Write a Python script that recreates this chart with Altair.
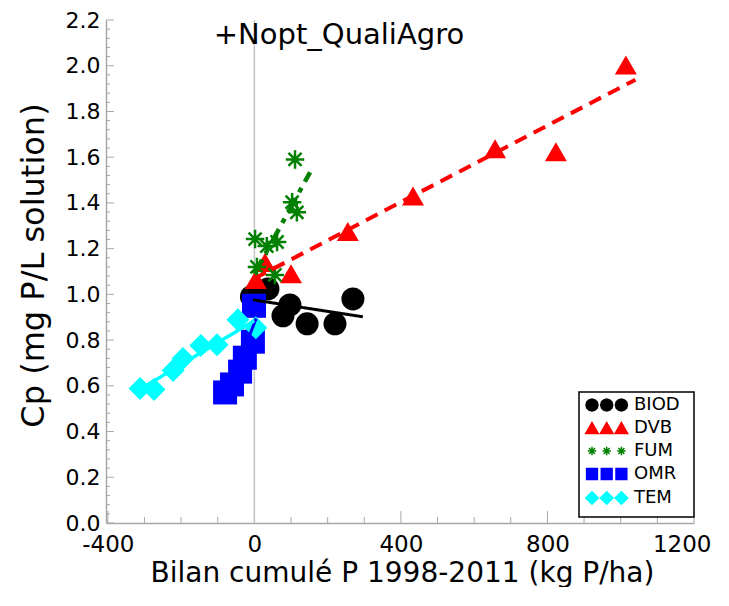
import math
import altair as alt
import pandas as pd

# ---------------- data ----------------
groups = ["BIOD", "DVB", "FUM", "OMR", "TEM"]
colors = ["#000000", "#ff0000", "#008000", "#0000ff", "#00ffff"]

biod_x = [-8, 37, 97, 78, 144, 220, 269]
biod_y = [0.99, 1.024, 0.954, 0.906, 0.871, 0.871, 0.980]
dvb_x = [4, 29, 100, 255, 433, 657, 823, 1014]
dvb_y = [1.065, 1.14, 1.09, 1.275, 1.43, 1.637, 1.624, 2.003]
fum_x = [111, 103, 116, 2, 34, 62, 7, 56]
fum_y = [1.590, 1.403, 1.359, 1.242, 1.211, 1.229, 1.120, 1.085]
omr_x = [-1, -4, -26, -39, -61, -80]
omr_y = [0.950, 0.793, 0.723, 0.662, 0.606, 0.571]
tem_x = [-312, -274, -222, -195, -146, -102, -45, 4]
tem_y = [0.588, 0.584, 0.667, 0.719, 0.776, 0.780, 0.889, 0.854]

# fitted lines (start / end)
fit_x0 = [-4, 0, 0, -80, -312]
fit_x1 = [296, 1040, 152, 5, 0]
fit_y0 = [0.976, 1.069, 1.09, 0.545, 0.585]
fit_y1 = [0.902, 1.939, 1.534, 0.895, 0.885]

x_major = [-400, 0, 400, 800, 1200]
x_minor = [-300, -200, -100, 100, 200, 300, 500, 600, 700, 900, 1000, 1100]
y_major = [0.0, 0.2, 0.4, 0.6, 0.8, 1.0, 1.2, 1.4, 1.6, 1.8, 2.0, 2.2]
y_minor = [round(i * 0.04, 2) for i in range(56) if i % 5 != 0]

title_text = "+Nopt_QualiAgro"
x_title = "Bilan cumulé P 1998-2011 (kg P/ha)"
y_title = "Cp (mg P/L solution)"

# ---------------- build tables ----------------
xs = [biod_x, dvb_x, fum_x, omr_x, tem_x]
ys = [biod_y, dvb_y, fum_y, omr_y, tem_y]
rows = []
for g, gx, gy in zip(groups, xs, ys):
    for a, b in zip(gx, gy):
        rows.append({"group": g, "x": a, "y": b})
pts = pd.DataFrame(rows)

lrows = []
for g, a0, a1, b0, b1 in zip(groups, fit_x0, fit_x1, fit_y0, fit_y1):
    lrows.append({"group": g, "x": a0, "y": b0, "o": 0})
    lrows.append({"group": g, "x": a1, "y": b1, "o": 1})
lines = pd.DataFrame(lrows)

W, H = 588, 503
FONT = "DejaVu Sans"
GRAY = "#a8a8a8"

XS = alt.Scale(domain=[-405, 1200], nice=False, zero=False)
YS = alt.Scale(domain=[0, 2.2], nice=False, zero=False)

XAX = alt.Axis(values=x_major, title=x_title, grid=False, ticks=False,
               domainColor=GRAY, domainWidth=1.5, labelFont=FONT, labelFontSize=23,
               labelColor="black", labelPadding=10, labelFlush=1, labelFlushOffset=17,
               labelOverlap=False, labelExpr="datum.value",
               titleFont=FONT, titleFontSize=28, titleFontWeight="normal", titleColor="black",
               titleX=296, titleY=50, titleBaseline="middle")
YAX = alt.Axis(values=y_major, title=y_title, grid=False, ticks=False,
               domainColor=GRAY, domainWidth=1.5, labelFont=FONT, labelFontSize=22,
               labelColor="black", labelPadding=6, labelFlush=False, labelOverlap=False,
               titleFont=FONT, titleFontSize=32, titleFontWeight="normal", titleColor="black",
               titleX=-73, titleY=245, titleBaseline="middle", format=".1f")


def star_path(cx, r):
    s = ""
    for k in range(4):
        a = math.pi * k / 4 + math.pi / 2
        dx, dy = r * math.cos(a), r * math.sin(a)
        s += f"M{cx - dx:.3f},{-dy:.3f}L{cx + dx:.3f},{dy:.3f}"
    return s


def poly(cx, p):
    return "M" + "L".join(f"{cx + a:.3f},{b:.3f}" for a, b in p) + "Z"


circ = [(math.cos(2 * math.pi * k / 12), math.sin(2 * math.pi * k / 12)) for k in range(12)]
tri = [(0, -0.9), (1.05, 0.9), (-1.05, 0.9)]
sq = [(-0.9, -0.9), (0.9, -0.9), (0.9, 0.9), (-0.9, 0.9)]
dia = [(0, -1.05), (1.05, 0), (0, 1.05), (-1.05, 0)]
offs = [0, 2.45, 4.9]
legend_paths = [
    "".join(poly(o, circ) for o in offs),
    "".join(poly(o, tri) for o in offs),
    "".join(star_path(o, 0.7) for o in offs),
    "".join(poly(o, sq) for o in offs),
    "".join(poly(o, dia) for o in offs),
]

ASTER = star_path(0, 1)
shapes = ["circle", "triangle-up", ASTER, "square", "diamond"]
sizes = [529, 484, 340, 576, 529]
line_w = [3, 4, 4.5, 3, 3.5]
dashes = [[1, 0], [13, 8], [16, 7, 5, 7], [1, 0], [1, 0]]

layers = []

# axis ticks (inward)
layers.append(alt.Chart(pd.DataFrame({"v": x_major})).mark_rule(color=GRAY, strokeWidth=1).encode(
    x=alt.X("v:Q", scale=XS, axis=XAX), y=alt.value(H), y2=alt.value(H - 12)))
layers.append(alt.Chart(pd.DataFrame({"v": x_minor})).mark_rule(color=GRAY, strokeWidth=1).encode(
    x=alt.X("v:Q", scale=XS, axis=XAX), y=alt.value(H), y2=alt.value(H - 6)))
layers.append(alt.Chart(pd.DataFrame({"v": y_major})).mark_rule(color=GRAY, strokeWidth=1).encode(
    y=alt.Y("v:Q", scale=YS, axis=YAX), x=alt.value(0), x2=alt.value(8)))
layers.append(alt.Chart(pd.DataFrame({"v": y_minor})).mark_rule(color=GRAY, strokeWidth=1).encode(
    y=alt.Y("v:Q", scale=YS, axis=YAX), x=alt.value(0), x2=alt.value(4)))

# vertical reference line at 0
layers.append(alt.Chart(pd.DataFrame({"v": [0]})).mark_rule(color="#c4c4c4", strokeWidth=1.5).encode(
    x=alt.X("v:Q", scale=XS, axis=XAX)))

# points
for g, c, sh, sz in zip(groups, colors, shapes, sizes):
    if sh == ASTER:
        mk = alt.Chart(pts).mark_point(shape=sh, size=sz, filled=False, stroke=c,
                                       strokeWidth=2.5, opacity=1)
    else:
        mk = alt.Chart(pts).mark_point(shape=sh, size=sz, filled=True, fill=c,
                                       opacity=1, strokeWidth=0)
    layers.append(mk.encode(
        x=alt.X("x:Q", scale=XS, axis=XAX),
        y=alt.Y("y:Q", scale=YS, axis=YAX),
    ).transform_filter(alt.datum.group == g))

# fitted lines
for g, c, lw, dsh in zip(groups, colors, line_w, dashes):
    layers.append(alt.Chart(lines).mark_line(color=c, strokeWidth=lw, strokeDash=dsh).encode(
        x=alt.X("x:Q", scale=XS, axis=XAX),
        y=alt.Y("y:Q", scale=YS, axis=YAX),
        order="o:Q",
    ).transform_filter(alt.datum.group == g))

# title inside plot
layers.append(alt.Chart(pd.DataFrame({"t": [title_text]})).mark_text(
    font=FONT, fontSize=29, color="black", align="center", baseline="middle").encode(
    text="t:N", x=alt.value(233), y=alt.value(15)))

# legend box
layers.append(alt.Chart(pd.DataFrame({"a": [0]})).mark_rect(
    fill="white", stroke="black", strokeWidth=1.5).encode(
    x=alt.value(473), x2=alt.value(588), y=alt.value(372), y2=alt.value(497)))

# legend (symbols only, no marks drawn)
LEG = alt.Legend(orient="none", legendX=477, legendY=376, title=None, padding=0,
                 labelFont=FONT, labelFontSize=18, labelColor="black", labelOffset=33,
                 symbolSize=144, symbolStrokeWidth=1.5, symbolOpacity=1, rowPadding=5)
leg_df = pd.DataFrame({"group": groups})
layers.append(alt.Chart(leg_df).mark_point(filled=True, strokeWidth=1.5, opacity=1).encode(
    fill=alt.Fill("group:N", scale=alt.Scale(domain=groups, range=colors), legend=LEG),
    stroke=alt.Stroke("group:N", scale=alt.Scale(domain=groups, range=colors), legend=LEG),
    shape=alt.Shape("group:N", scale=alt.Scale(domain=groups, range=legend_paths), legend=LEG),
).transform_filter(alt.datum.group == "none"))

chart = alt.layer(*layers).properties(
    width=W, height=H,
    autosize=alt.AutoSizeParams(type="none"),
    padding={"left": 98, "top": 12, "right": 27, "bottom": 64},
).configure_view(stroke=None)

chart.save("out.html", embed_options={"renderer": "svg", "actions": False})
